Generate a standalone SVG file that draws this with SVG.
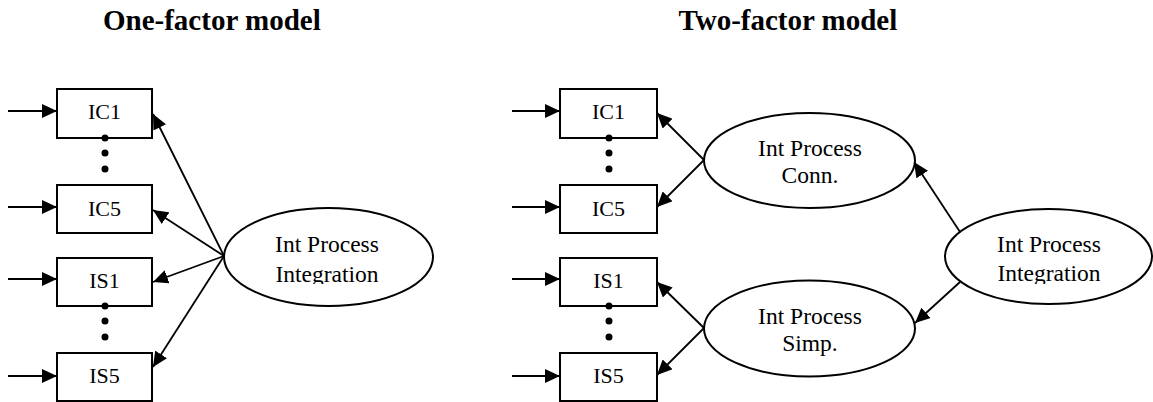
<svg xmlns="http://www.w3.org/2000/svg" width="1153" height="402" viewBox="0 0 1153 402">
<style>
.t{font-family:"Liberation Serif","Times New Roman",serif;fill:#000}
.title{font-size:29px;font-weight:bold}
.box{fill:#fff;stroke:#000;stroke-width:2}
.bt{font-size:22px}
.el{fill:#fff;stroke:#000;stroke-width:2}
.et{font-size:23.5px}
.c{stroke:#000;stroke-width:1.8;fill:none;marker-end:url(#ah)}
.dot{fill:#000}
</style>
<defs>
<marker id="ah" markerUnits="userSpaceOnUse" markerWidth="16" markerHeight="14" refX="15" refY="7" orient="auto">
<path d="M0,0 L15,7 L0,14 Z" fill="#000"/>
</marker>
<clipPath id="cl1"><rect x="220" y="200" width="220" height="84"/></clipPath>
<clipPath id="cl2"><rect x="940" y="200" width="213" height="84"/></clipPath>
</defs>
<text class="t title" x="103" y="30">One-factor model</text>
<text class="t title" x="678.5" y="30">Two-factor model</text>

<g id="connectors">
<line class="c" x1="8" y1="111" x2="57" y2="111"/>
<line class="c" x1="8" y1="207" x2="57" y2="207"/>
<line class="c" x1="8" y1="279" x2="57" y2="279"/>
<line class="c" x1="8" y1="376" x2="57" y2="376"/>
<line class="c" x1="224" y1="256" x2="153" y2="114"/>
<line class="c" x1="224" y1="256" x2="153" y2="210"/>
<line class="c" x1="224" y1="256" x2="153" y2="282"/>
<line class="c" x1="224" y1="256" x2="153" y2="367"/>
<line class="c" x1="512" y1="111" x2="560" y2="111"/>
<line class="c" x1="512" y1="207" x2="560" y2="207"/>
<line class="c" x1="512" y1="279" x2="560" y2="279"/>
<line class="c" x1="512" y1="376" x2="560" y2="376"/>
<line class="c" x1="704" y1="160" x2="657" y2="113"/>
<line class="c" x1="704" y1="160" x2="657" y2="207"/>
<line class="c" x1="704" y1="328" x2="657" y2="282"/>
<line class="c" x1="704" y1="328" x2="657" y2="375"/>
<line class="c" x1="960" y1="232" x2="914" y2="162"/>
<line class="c" x1="960" y1="282" x2="915" y2="323"/>
</g>

<g id="L-IC1"><rect class="box" x="57" y="89" width="95" height="49"/><text class="t bt" x="104.5" y="119" text-anchor="middle">IC1</text></g>
<g id="L-IC5"><rect class="box" x="57" y="185" width="95" height="48"/><text class="t bt" x="104.5" y="216" text-anchor="middle">IC5</text></g>
<g id="L-IS1"><rect class="box" x="57" y="258" width="95" height="48"/><text class="t bt" x="104.5" y="288" text-anchor="middle">IS1</text></g>
<g id="L-IS5"><rect class="box" x="57" y="353" width="95" height="48"/><text class="t bt" x="104.5" y="383" text-anchor="middle">IS5</text></g>
<g id="L-dots"><circle class="dot" cx="105" cy="138" r="3.5"/><circle class="dot" cx="105" cy="153" r="3.5"/><circle class="dot" cx="105" cy="169" r="3.5"/><circle class="dot" cx="105" cy="306" r="3.5"/><circle class="dot" cx="105" cy="321" r="3.5"/><circle class="dot" cx="105" cy="337" r="3.5"/></g>
<g id="L-Integration"><ellipse class="el" cx="328.5" cy="257" rx="104.5" ry="49"/><text class="t et" x="327" y="252" text-anchor="middle">Int Process</text><text class="t et" x="327" y="282" text-anchor="middle" clip-path="url(#cl1)">Integration</text></g>

<g id="R-IC1"><rect class="box" x="560" y="89" width="97" height="49"/><text class="t bt" x="608.5" y="119" text-anchor="middle">IC1</text></g>
<g id="R-IC5"><rect class="box" x="560" y="185" width="97" height="48"/><text class="t bt" x="608.5" y="216" text-anchor="middle">IC5</text></g>
<g id="R-IS1"><rect class="box" x="560" y="258" width="97" height="48"/><text class="t bt" x="608.5" y="288" text-anchor="middle">IS1</text></g>
<g id="R-IS5"><rect class="box" x="560" y="353" width="97" height="48"/><text class="t bt" x="608.5" y="383" text-anchor="middle">IS5</text></g>
<g id="R-dots"><circle class="dot" cx="609" cy="138" r="3.5"/><circle class="dot" cx="609" cy="153" r="3.5"/><circle class="dot" cx="609" cy="169" r="3.5"/><circle class="dot" cx="609" cy="306" r="3.5"/><circle class="dot" cx="609" cy="321" r="3.5"/><circle class="dot" cx="609" cy="337" r="3.5"/></g>
<g id="R-Conn"><ellipse class="el" cx="809.5" cy="160.5" rx="105.5" ry="47.5"/><text class="t et" x="810" y="156" text-anchor="middle">Int Process</text><text class="t et" x="810" y="183" text-anchor="middle">Conn.</text></g>
<g id="R-Simp"><ellipse class="el" cx="809.5" cy="328.5" rx="105.5" ry="48"/><text class="t et" x="810" y="324" text-anchor="middle">Int Process</text><text class="t et" x="810" y="351" text-anchor="middle">Simp.</text></g>
<g id="R-Integration"><ellipse class="el" cx="1048.5" cy="256.5" rx="103.5" ry="47.5"/><text class="t et" x="1049" y="252" text-anchor="middle">Int Process</text><text class="t et" x="1049" y="281" text-anchor="middle" clip-path="url(#cl2)">Integration</text></g>
</svg>
